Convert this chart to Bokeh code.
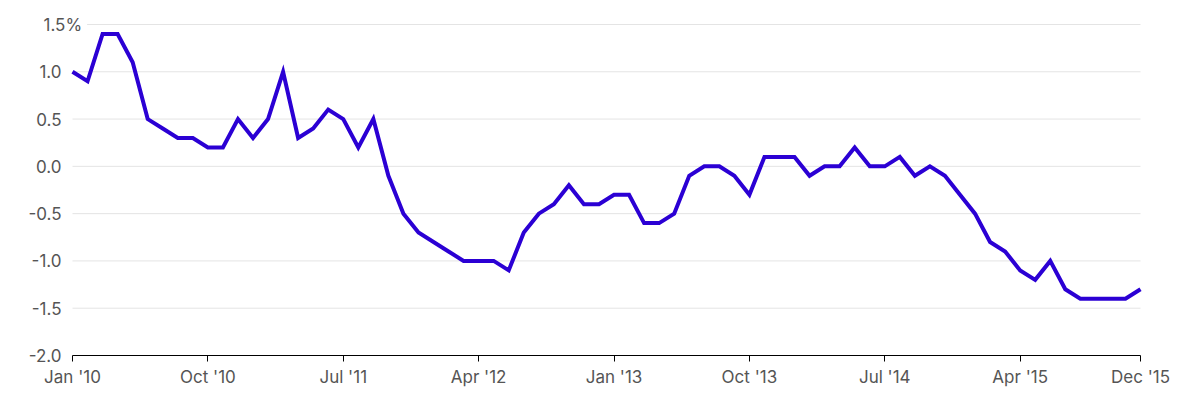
from bokeh.plotting import figure
from bokeh.models import Range1d, FixedTicker, CustomJSTickFormatter, ColumnDataSource
from bokeh.core.properties import value
from bokeh.embed import file_html
from bokeh.resources import INLINE

# Monthly values, Jan 2010 .. Dec 2015 (percent)
months = list(range(72))
values = [
    1.0, 0.9, 1.4, 1.4, 1.1, 0.5, 0.4, 0.3, 0.3, 0.2, 0.2, 0.5,   # 2010
    0.3, 0.5, 1.0, 0.3, 0.4, 0.6, 0.5, 0.2, 0.5, -0.1, -0.5, -0.7,  # 2011
    -0.8, -0.9, -1.0, -1.0, -1.0, -1.1, -0.7, -0.5, -0.4, -0.2, -0.4, -0.4,  # 2012
    -0.3, -0.3, -0.6, -0.6, -0.5, -0.1, 0.0, 0.0, -0.1, -0.3, 0.1, 0.1,  # 2013
    0.1, -0.1, 0.0, 0.0, 0.2, 0.0, 0.0, 0.1, -0.1, 0.0, -0.1, -0.3,  # 2014
    -0.5, -0.8, -0.9, -1.1, -1.2, -1.0, -1.3, -1.4, -1.4, -1.4, -1.4, -1.3,  # 2015
]
x_tick_pos = [0, 9, 18, 27, 36, 45, 54, 63, 71]
x_tick_labels = ["Jan '10", "Oct '10", "Jul '11", "Apr '12", "Jan '13",
                 "Oct '13", "Jul '14", "Apr '15", "Dec '15"]
y_ticks = [-2.0, -1.5, -1.0, -0.5, 0.0, 0.5, 1.0, 1.5]
y_top_tick = [1.5]
y_top_label = ["1.5%"]

FONT = "Inter"
TXT = "#555555"
FS = "17px"

# layout (pixels); axes are pinned inside an enlarged frame so that
# labels which overhang the data area are not clipped
W, H = 1192, 398
FRAME_L, FRAME_R, FRAME_T, FRAME_B = 10, 1185, 4, 394
DATA_L, DATA_R, DATA_T, DATA_B = 72, 1140, 24, 355
PX = (DATA_R - DATA_L) / (months[-1] - months[0])
PY = (DATA_B - DATA_T) / (y_ticks[-1] - y_ticks[0])
x_lo = months[0] - (DATA_L - FRAME_L) / PX
x_hi = months[-1] + (FRAME_R - DATA_R) / PX
y_lo = y_ticks[0] - (FRAME_B - DATA_B) / PY
y_hi = y_ticks[-1] + (DATA_T - FRAME_T) / PY
top_label_x = months[0] - (DATA_L - 38) / PX

src = ColumnDataSource(dict(x=months, y=values))

p = figure(width=W, height=H, output_backend="svg", toolbar_location=None,
           x_range=Range1d(x_lo, x_hi), y_range=Range1d(y_lo, y_hi),
           min_border_left=FRAME_L, min_border_right=W - FRAME_R,
           min_border_top=FRAME_T, min_border_bottom=H - FRAME_B)
p.outline_line_color = None
p.background_fill_color = "white"

# horizontal grid lines spanning the data extent only
grid_y = [t for t in y_ticks if t != y_ticks[0]]
p.segment(x0=[months[0]] * len(grid_y), x1=[months[-1]] * len(grid_y), y0=grid_y, y1=grid_y,
          line_color="#e4e4e4", line_width=1)

# top "1.5%" label, overhanging the plot edge like the original
p.text(x=[top_label_x], y=y_top_tick, text=y_top_label, text_align="left", text_baseline="middle",
       text_font=value(FONT), text_font_size=value(FS), text_color=TXT,
       background_fill_color="white", padding=5)

p.line("x", "y", source=src, line_color="#2b00d4", line_width=4, line_join="miter")

# x axis, pinned at the bottom value
xa = p.xaxis[0]
xa.fixed_location = y_ticks[0]
xa.bounds = (months[0], months[-1])
xa.ticker = FixedTicker(ticks=x_tick_pos)
xa.major_label_overrides = {k: v for k, v in zip(x_tick_pos, x_tick_labels)}
xa.axis_line_color = "black"
xa.axis_line_width = 1
xa.major_tick_line_color = "black"
xa.major_tick_out = 6
xa.major_tick_in = 0
xa.minor_tick_line_color = None
xa.major_label_standoff = 5
xa.major_label_text_font = FONT
xa.major_label_text_font_size = FS
xa.major_label_text_color = TXT

# y axis, pinned at the first month
ya = p.yaxis[0]
ya.fixed_location = months[0]
ya.bounds = (y_ticks[0], y_ticks[-1])
ya.ticker = FixedTicker(ticks=y_ticks)
ya.formatter = CustomJSTickFormatter(code="""
    if (Math.abs(tick - 1.5) < 1e-9) { return ''; }
    return tick.toFixed(1);
""")
ya.axis_line_color = None
ya.major_tick_line_color = None
ya.major_tick_out = 0
ya.major_tick_in = 0
ya.minor_tick_line_color = None
ya.major_label_standoff = 11
ya.major_label_text_font = FONT
ya.major_label_text_font_size = FS
ya.major_label_text_color = TXT

p.xgrid.grid_line_color = None
p.ygrid.grid_line_color = None

open("out.html", "w").write(file_html(p, INLINE))
